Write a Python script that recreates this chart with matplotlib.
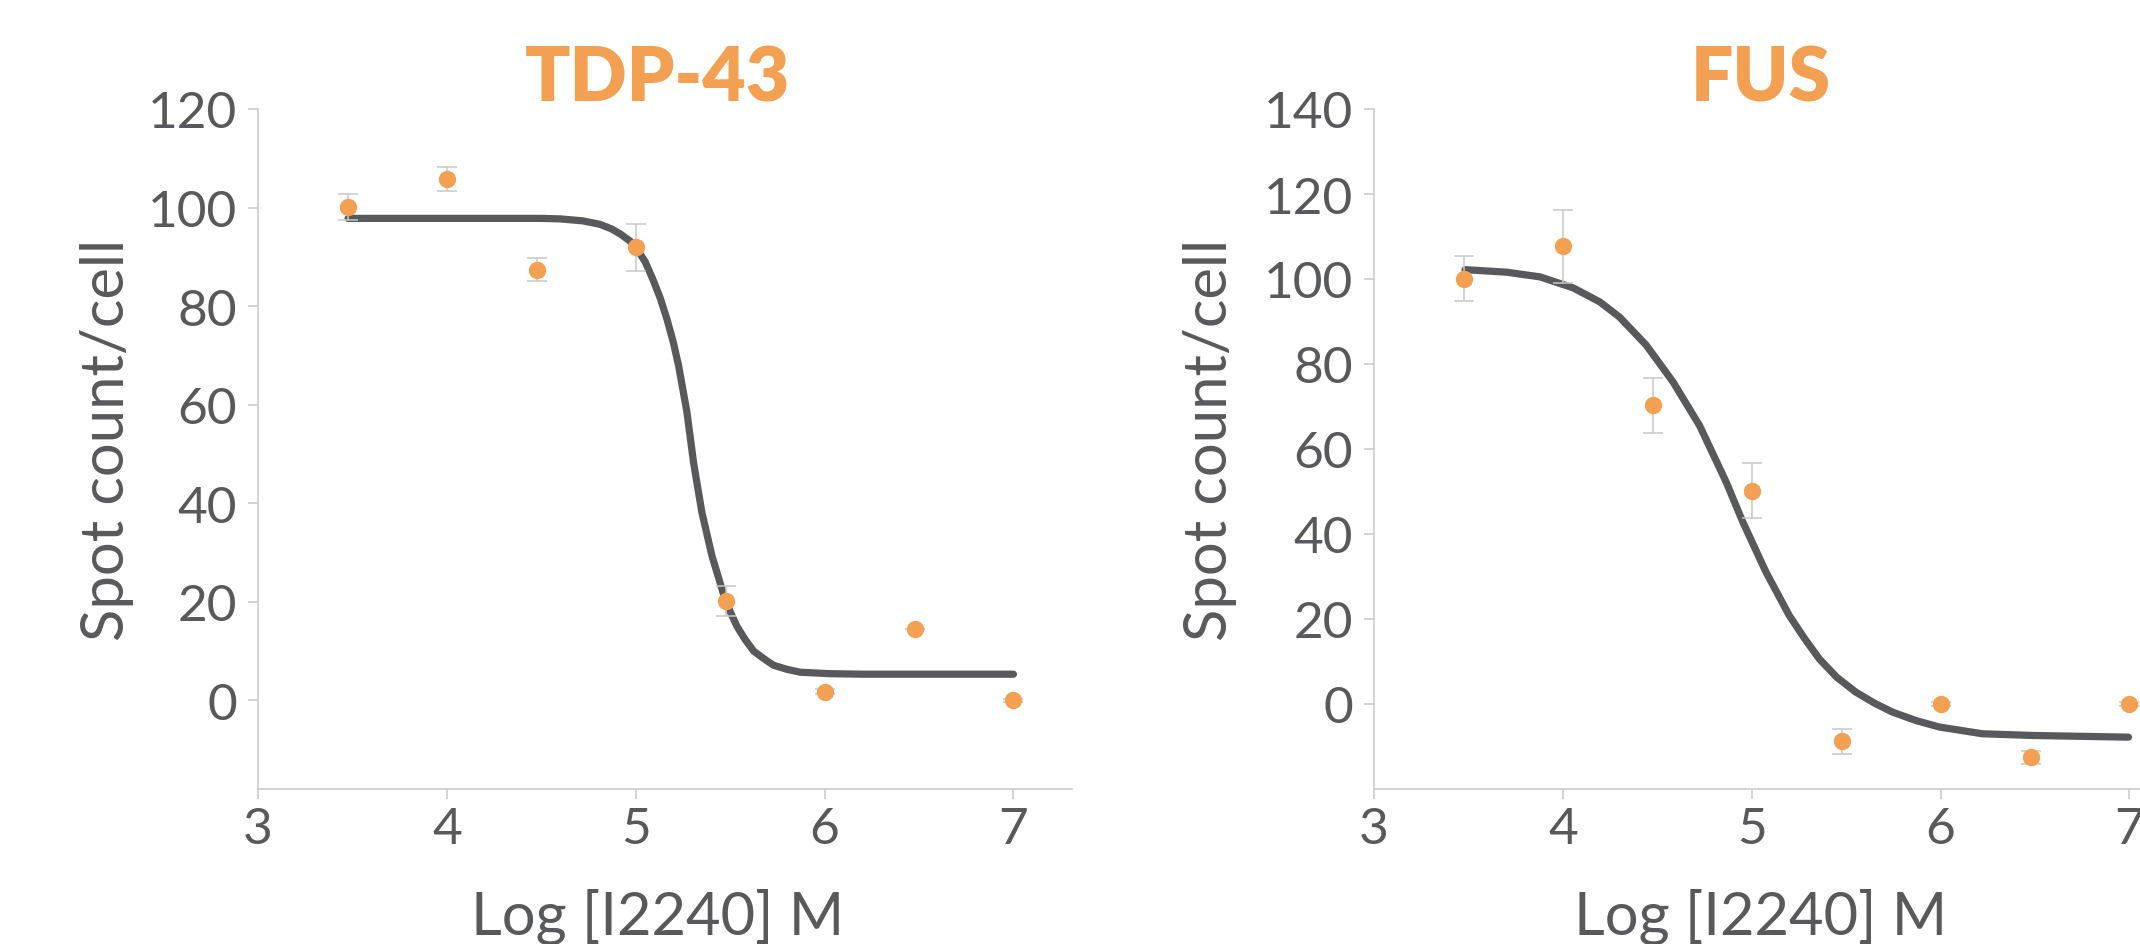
import matplotlib
matplotlib.use("Agg")
import matplotlib.pyplot as plt

# log10 of concentration (3e3, 1e4, 3e4 ... 1e7)
log_conc = [3.477, 4.0, 4.477, 5.0, 5.477, 6.0, 6.477, 7.0]

tdp_mean = [100.1, 105.8, 87.4, 91.9, 20.1, 1.7, 14.5, 0.0]
tdp_err = [2.7, 2.4, 2.3, 4.7, 3.0, 0.5, 0.0, 0.3]

fus_mean = [100.1, 107.7, 70.3, 50.2, -8.8, 0.0, -12.5, 0.0]
fus_err = [5.3, 8.6, 6.5, 6.4, 2.9, 0.4, 1.5, 0.4]

# fitted curves
tdp_fit_x = [3.477, 4.0, 4.5, 4.6, 4.72, 4.81, 4.87, 4.92, 4.97, 5.0, 5.05, 5.09, 5.13, 5.165,
             5.2, 5.227, 5.25, 5.271, 5.306, 5.35, 5.403, 5.465, 5.5, 5.536, 5.58, 5.624,
             5.68, 5.73, 5.8, 5.87, 6.03, 6.2, 7.0]
tdp_fit_y = [97.8, 97.8, 97.8, 97.7, 97.3, 96.6, 95.7, 94.6, 93.2, 92.0, 89.0, 85.5, 81.6, 77.4,
             72.5, 67.9, 63.0, 58.5, 48.3, 38.2, 29.4, 21.5, 18.0, 15.0, 12.3, 10.0,
             8.4, 7.1, 6.3, 5.7, 5.4, 5.3, 5.3]

fus_fit_x = [3.482, 3.703, 3.879, 4.055, 4.196, 4.301, 4.442, 4.583, 4.724, 4.865, 4.953,
             5.076, 5.199, 5.28, 5.358, 5.45, 5.551, 5.65, 5.745, 5.87, 5.992, 6.22, 6.484, 6.995]
fus_fit_y = [102.2, 101.6, 100.5, 97.9, 94.6, 91.0, 84.4, 75.8, 65.5, 52.2, 42.8,
             31.0, 20.8, 15.4, 10.6, 6.3, 2.8, 0.2, -1.9, -3.9, -5.4, -7.0, -7.4, -7.8]

panels = [
    ("TDP-43", tdp_mean, tdp_err, tdp_fit_x, tdp_fit_y, (-18, 120), list(range(0, 121, 20))),
    ("FUS", fus_mean, fus_err, fus_fit_x, fus_fit_y, (-20, 140), list(range(0, 141, 20))),
]

ORANGE = "#F4A052"
DARK = "#58595B"
LIGHT = "#C8C8C8"

plt.rcParams["font.family"] = ["Lato", "DejaVu Sans"]

W, H = 2140, 945
fig = plt.figure(figsize=(W / 100, H / 100), dpi=100, facecolor="white")

# axes boxes in pixels
ax_left_px = [258, 1374]
ax_w_px = 814
ax_top_px, ax_bot_px = 110, 790
title_cx = [658, 1761]
ylabel_x = [124, 1227]

for i, (name, mean, err, fx, fy, ylim, yticks) in enumerate(panels):
    ax = fig.add_axes([ax_left_px[i] / W, 1 - ax_bot_px / H, ax_w_px / W,
                       (ax_bot_px - ax_top_px) / H])
    ax.plot(fx, fy, color=DARK, lw=5.2, solid_capstyle="round",
            solid_joinstyle="round", zorder=2)
    ax.errorbar(log_conc, mean, yerr=err, fmt="o", color=ORANGE, ms=12.5,
                mec="none", ecolor=LIGHT, elinewidth=1.1, capsize=7.2,
                capthick=1.1, zorder=3)
    ax.set_xlim(3, 7.31)
    ax.set_ylim(*ylim)
    ax.set_xticks([3, 4, 5, 6, 7])
    ax.set_yticks(yticks)
    for side in ("top", "right"):
        ax.spines[side].set_visible(False)
    for side in ("left", "bottom"):
        ax.spines[side].set_color(LIGHT)
        ax.spines[side].set_linewidth(1.1)
    ax.tick_params(axis="both", colors=LIGHT, labelcolor=DARK, length=7,
                   width=1.1, labelsize=37)
    ax.tick_params(axis="y", pad=8)
    ax.tick_params(axis="x", pad=5)

    fig.text(title_cx[i] / W, 1 - 102 / H, name, ha="center", va="baseline",
             fontsize=54, fontweight="heavy", color=ORANGE)
    fig.text(ylabel_x[i] / W, 1 - 440 / H, "Spot count/cell", rotation=90,
             rotation_mode="anchor", ha="center", va="baseline", fontsize=43,
             color=DARK)
    fig.text(title_cx[i] / W, 1 - 935 / H, "Log [I2240] M", ha="center",
             va="baseline", fontsize=43, color=DARK)

fig.savefig("out.png", dpi=100, facecolor="white")
